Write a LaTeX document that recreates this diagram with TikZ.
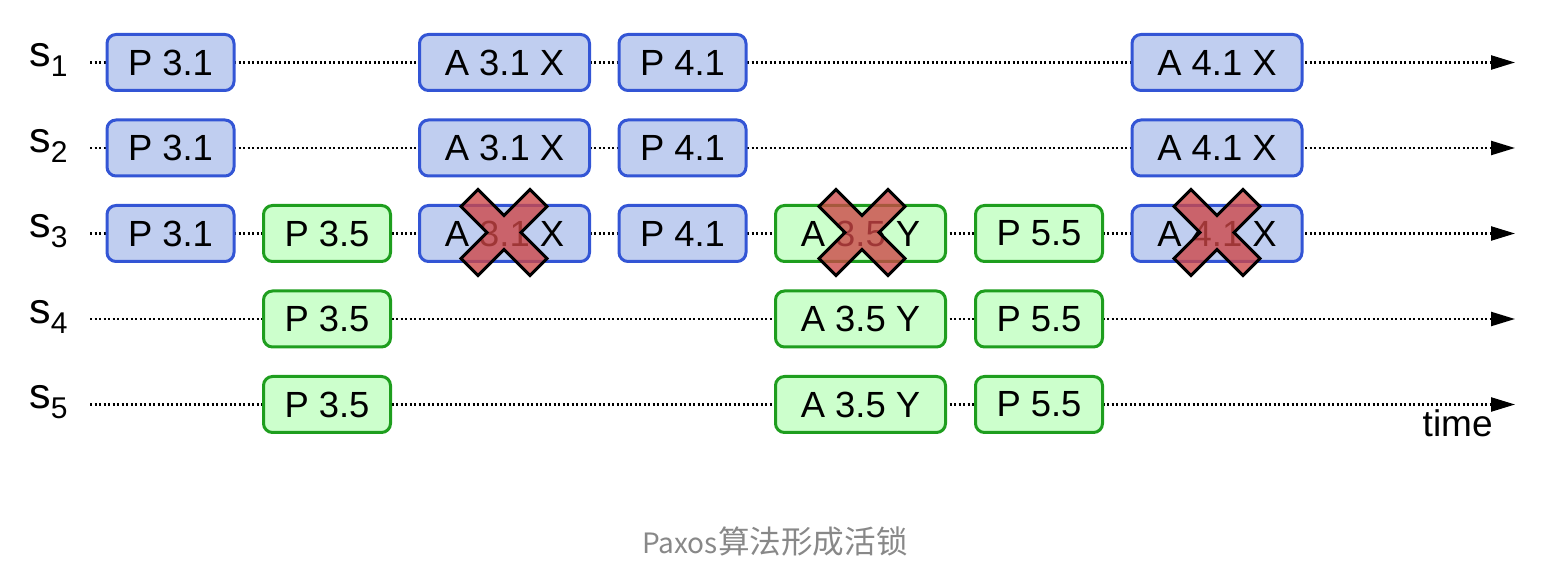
\documentclass[tikz,border=0pt]{standalone}
\usepackage{fontspec}
\setmainfont{Liberation Sans}
\newfontfamily\cjk{Noto Sans CJK SC}
\usetikzlibrary{arrows.meta,backgrounds}
\definecolor{bfill}{RGB}{192,206,240}
\definecolor{bdraw}{RGB}{51,85,213}
\definecolor{gfill}{RGB}{204,255,204}
\definecolor{gdraw}{RGB}{30,158,30}
\definecolor{xfill}{RGB}{205,70,70}
\definecolor{capgray}{RGB}{136,136,136}
\begin{document}
\begin{tikzpicture}[x=0.5pt,y=-0.5pt,
  box/.style={line width=1.5pt, rounded corners=4.5pt, minimum height=28pt,
    inner sep=0pt, font=\fontsize{18.2}{20}\selectfont},
  pbox/.style={box, minimum width=63.5pt},
  abox/.style={box, minimum width=85pt},
  bluebox/.style={fill=bfill, draw=bdraw},
  greenbox/.style={fill=gfill, draw=gdraw},
  timeline/.style={line width=1.15pt, dash pattern=on 1.1pt off 1.15pt,
    -{Triangle[length=12pt,width=7pt]}},
  crossx/.style={draw=black, line width=1.5pt, fill=xfill, fill opacity=0.78, line join=miter},
  lbl/.style={anchor=base west, inner sep=0pt, font=\fontsize{21.5}{24}\selectfont},
  xmark/.pic={\draw[crossx, rotate=45] (-12,-48.8) -- (12,-48.8) -- (12,-12) -- (48.8,-12)
      -- (48.8,12) -- (12,12) -- (12,48.8) -- (-12,48.8) -- (-12,12) -- (-48.8,12)
      -- (-48.8,-12) -- (-12,-12) -- cycle;}
]
\useasboundingbox (0,0) rectangle (1562,576);

% labels
\node[lbl] (s1) at (29,67) {s\raisebox{-5pt}{\fontsize{15}{15}\selectfont 1}};
\node[lbl] (s2) at (29,152.5) {s\raisebox{-5pt}{\fontsize{15}{15}\selectfont 2}};
\node[lbl] (s3) at (29,238) {s\raisebox{-5pt}{\fontsize{15}{15}\selectfont 3}};
\node[lbl] (s4) at (29,323.5) {s\raisebox{-5pt}{\fontsize{15}{15}\selectfont 4}};
\node[lbl] (s5) at (29,409) {s\raisebox{-5pt}{\fontsize{15}{15}\selectfont 5}};

% timeline endpoints
\foreach \i/\y in {1/62.5,2/148,3/233.5,4/319,5/404.5}{
  \coordinate (st\i) at (90,\y);
  \coordinate (en\i) at (1515,\y);
}

% row 1
\node[pbox,bluebox] (p31a) at (170.5,62.5) {P 3.1};
\node[abox,bluebox] (a31a) at (504.5,62.5) {A 3.1 X};
\node[pbox,bluebox] (p41a) at (682.5,62.5) {P 4.1};
\node[abox,bluebox] (a41a) at (1217,62.5) {A 4.1 X};
% row 2
\node[pbox,bluebox] (p31b) at (170.5,148) {P 3.1};
\node[abox,bluebox] (a31b) at (504.5,148) {A 3.1 X};
\node[pbox,bluebox] (p41b) at (682.5,148) {P 4.1};
\node[abox,bluebox] (a41b) at (1217,148) {A 4.1 X};
% row 3
\node[pbox,bluebox] (p31c) at (170.5,233.5) {P 3.1};
\node[pbox,greenbox] (p35c) at (327,233.5) {P 3.5};
\node[abox,bluebox] (a31c) at (504.5,233.5) {A 3.1 X};
\node[pbox,bluebox] (p41c) at (682.5,233.5) {P 4.1};
\node[abox,greenbox] (a35c) at (860.5,233.5) {A 3.5 Y};
\node[pbox,greenbox] (p55c) at (1039,233.5) {P 5.5};
\node[abox,bluebox] (a41c) at (1217,233.5) {A 4.1 X};
% row 4
\node[pbox,greenbox] (p35d) at (327,319) {P 3.5};
\node[abox,greenbox] (a35d) at (860.5,319) {A 3.5 Y};
\node[pbox,greenbox] (p55d) at (1039,319) {P 5.5};
% row 5
\node[pbox,greenbox] (p35e) at (327,404.5) {P 3.5};
\node[abox,greenbox] (a35e) at (860.5,404.5) {A 3.5 Y};
\node[pbox,greenbox] (p55e) at (1039,404.5) {P 5.5};

\begin{scope}[on background layer]
  \foreach \i in {1,...,5}{\draw[timeline] (st\i) -- (en\i);}
\end{scope}

% crosses
\pic at (504,232.5) {xmark};
\pic at (862,232.5) {xmark};
\pic at (1217,232.5) {xmark};

\node[anchor=base east, inner sep=0pt, font=\fontsize{18.5}{20}\selectfont] (time) at (1493,437) {time};

\node[anchor=base, inner sep=0pt, text=capgray] (cap) at (775,553)
  {\cjk\fontsize{14}{16}\selectfont Paxos\fontsize{15.8}{18}\selectfont 算法形成活锁};
\end{tikzpicture}
\end{document}
